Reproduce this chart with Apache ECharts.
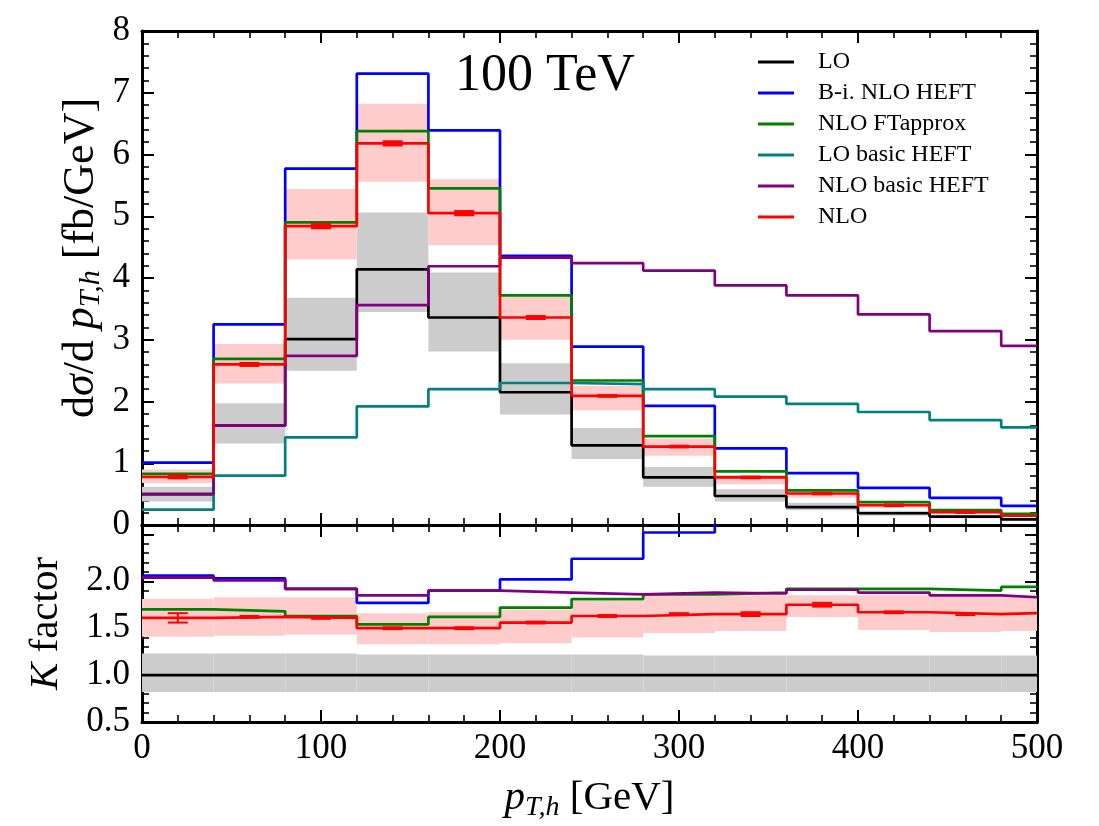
<!DOCTYPE html>
<html><head><meta charset="utf-8">
<script src="https://cdn.jsdelivr.net/npm/echarts@6/dist/echarts.min.js"></script>
<style>html,body{margin:0;padding:0;background:#fff}#c{width:1099px;height:826px}</style>
</head><body><div id="c"></div>
<script>
// ---- data ----
const binEdges = [0,40,80,120,160,200,240,280,320,360,400,440,480,500];
const seriesNames = ['LO','B-i. NLO HEFT','NLO FTapprox','LO basic HEFT','NLO basic HEFT','NLO'];
const xTicks = [0,100,200,300,400,500];

// top panel: dsigma/dpT [fb/GeV]
const lo            = [0.50,1.61,3.01,4.14,3.36,2.15,1.29,0.77,0.47,0.29,0.19,0.135,0.09];
const loBandLow     = [0.38,1.32,2.50,3.45,2.81,1.79,1.07,0.62,0.38,0.24,0.15,0.11,0.07];
const loBandHigh    = [0.62,1.97,3.68,5.06,4.09,2.62,1.57,0.94,0.58,0.36,0.23,0.16,0.11];
const biNloHeft     = [1.01,3.25,5.77,7.31,6.39,4.36,2.89,1.93,1.24,0.84,0.60,0.44,0.31];
const nloFTapprox   = [0.83,2.69,4.90,6.38,5.45,3.72,2.34,1.44,0.87,0.56,0.37,0.24,0.18];
const loBasicHeft   = [0.25,0.80,1.42,1.92,2.20,2.30,2.28,2.20,2.08,1.96,1.83,1.70,1.58];
const nloBasicHeft  = [0.50,1.61,2.74,3.56,4.19,4.33,4.24,4.12,3.88,3.72,3.41,3.14,2.90];
const nlo           = [0.78,2.60,4.84,6.18,5.05,3.36,2.09,1.27,0.77,0.51,0.32,0.21,0.15];
const nloBandLow    = [0.68,2.29,4.30,5.56,4.53,3.00,1.86,1.12,0.66,0.44,0.28,0.18,0.13];
const nloBandHigh   = [0.90,2.93,5.44,6.82,5.60,3.70,2.25,1.40,0.81,0.57,0.36,0.23,0.17];
const nloErr        = [0.02,0.02,0.03,0.03,0.03,0.02,0.01,0.01,0.01,0.01,0.01,0.01];

// bottom panel: K factor
const kLO           = [1,1,1,1,1,1,1,1,1,1,1,1,1];
const kLOBandLow    = [0.82,0.82,0.82,0.82,0.82,0.82,0.82,0.82,0.82,0.82,0.82,0.82,0.82];
const kLOBandHigh   = [1.23,1.23,1.23,1.22,1.22,1.22,1.22,1.21,1.21,1.21,1.21,1.21,1.21];
const kBiNloHeft    = [2.06,2.03,1.92,1.77,1.90,2.02,2.24,2.52,2.65,2.90,3.15,3.25,3.40];
const kNloFTapprox  = [1.70,1.68,1.63,1.54,1.62,1.72,1.81,1.86,1.88,1.92,1.92,1.90,1.94];
const kNloBasicHeft = [2.04,2.01,1.92,1.85,1.90,1.88,1.86,1.88,1.87,1.91,1.88,1.85,1.83];
const kNlo          = [1.61,1.62,1.61,1.50,1.50,1.56,1.63,1.65,1.65,1.75,1.67,1.65,1.66];
const kNloBandLow   = [1.41,1.42,1.43,1.33,1.33,1.34,1.40,1.45,1.47,1.62,1.48,1.46,1.47];
const kNloBandHigh  = [1.81,1.83,1.83,1.66,1.67,1.70,1.79,1.85,1.85,1.85,1.85,1.85,1.85];
const kNloErr       = [0.05,0.01,0.01,0.01,0.01,0.01,0.01,0.01,0.02,0.02,0.01,0.01];

// ---- chart ----
const colors = ['#000000','#0000ff','#008000','#008080','#800080','#ff0000'];
const FONT = 'Liberation Serif';
const chart = echarts.init(document.getElementById('c'), null, {renderer:'canvas'});

function steps(vals){
  const d = vals.map((v,i)=>[binEdges[i], v]);
  d.push([binEdges[binEdges.length-1], vals[vals.length-1]]);
  return d;
}
function lineSeries(name, vals, color, xi, yi, z){
  return {type:'line', name, xAxisIndex:xi, yAxisIndex:yi, data:steps(vals), step:'end',
    symbol:'none', showSymbol:false, clip:true, z,
    lineStyle:{color, width:2.7}, itemStyle:{color}, animation:false};
}
function bandSeries(name, low, high, color, xi, yi){
  return {type:'custom', name, xAxisIndex:xi, yAxisIndex:yi, silent:true, z:1, animation:false,
    data: low.map((l,i)=>[binEdges[i], binEdges[i+1], l, high[i]]),
    encode:{x:[0,1], y:[2,3]},
    renderItem:(params, api)=>{
      const p1 = api.coord([api.value(0), api.value(3)]);
      const p2 = api.coord([api.value(1), api.value(2)]);
      return {type:'rect', shape:{x:p1[0], y:p1[1], width:p2[0]-p1[0], height:p2[1]-p1[1]},
        style:{fill:color}};
    }};
}
function errSeries(name, vals, errs, xi, yi, capW, lw){
  return {type:'custom', name, xAxisIndex:xi, yAxisIndex:yi, silent:true, z:20, animation:false,
    data: errs.map((e,i)=>[(binEdges[i]+binEdges[i]+40)/2, vals[i], e]),
    encode:{x:0, y:1},
    renderItem:(params, api)=>{
      const x = api.value(0), y = api.value(1), e = api.value(2);
      const t = api.coord([x, y+e]), b = api.coord([x, y-e]);
      const h = capW/2, st = {stroke:'#ff0000', lineWidth:lw};
      return {type:'group', children:[
        {type:'line', shape:{x1:t[0], y1:t[1], x2:b[0], y2:b[1]}, style:st},
        {type:'line', shape:{x1:t[0]-h, y1:t[1], x2:t[0]+h, y2:t[1]}, style:st},
        {type:'line', shape:{x1:b[0]-h, y1:b[1], x2:b[0]+h, y2:b[1]}, style:st}
      ]};
    }};
}

const lineCommon = {show:true, onZero:false, lineStyle:{color:'#000', width:3}};
const majorTick = {show:true, inside:true, length:12, lineStyle:{color:'#000', width:2}};
const minorTickStyle = {color:'#000', width:1.6};
const labelFont = {fontFamily:FONT, fontSize:35, color:'#000'};
function xAxis(grid, pos, showLabel, extra){
  return Object.assign({type:'value', gridIndex:grid, position:pos, min:0, max:500, interval:100,
    axisLine:lineCommon, axisTick:majorTick,
    minorTick:{show:true, splitNumber:5, length:7, lineStyle:minorTickStyle},
    splitLine:{show:false}, minorSplitLine:{show:false},
    axisLabel:Object.assign({show:showLabel, margin:9, showMinLabel:true, showMaxLabel:true,
      formatter:v=> xTicks.includes(v) ? String(v) : ''}, labelFont)}, extra||{});
}
function mkRich(fs, sfs){
  return {
    n:{fontFamily:FONT, fontSize:fs, lineHeight:fs+7, color:'#000'},
    i:{fontFamily:FONT, fontSize:fs, lineHeight:fs+7, fontStyle:'italic', color:'#000'},
    s:{fontFamily:FONT, fontSize:sfs, lineHeight:sfs+3, fontStyle:'italic', verticalAlign:'bottom', color:'#000'}
  };
}
const rich = mkRich(41, 28);
const richY = mkRich(44, 30);
function kMinorAxis(pos){
  return {type:'value', gridIndex:2, position:pos, min:0.5, max:2.6, interval:0.1,
    axisLine:{show:false},
    axisTick:{show:true, inside:true, length:7, lineStyle:minorTickStyle},
    splitLine:{show:false}, axisLabel:{show:false}};
}

const option = {
  animation:false,
  backgroundColor:'#fff',
  grid:[
    {left:142, top:31, right:62, height:494},
    {left:142, top:525, right:62, height:197},
    {left:142, top:525, right:62, height:197}
  ],
  xAxis:[
    xAxis(0,'bottom',false),
    xAxis(0,'top',false),
    xAxis(1,'bottom',true,{name:'{i|p}{s|T,h}{n| [GeV]}', nameLocation:'middle', nameGap:52,
      nameTextStyle:{rich}}),
    xAxis(1,'top',false),
    {type:'value', gridIndex:2, min:0, max:500, show:false}
  ],
  yAxis:[
    {type:'value', gridIndex:0, position:'left', min:0, max:8, interval:1,
      axisLine:lineCommon, axisTick:majorTick,
      minorTick:{show:true, splitNumber:5, length:7, lineStyle:minorTickStyle},
      splitLine:{show:false},
      axisLabel:Object.assign({margin:12, showMinLabel:true, showMaxLabel:true}, labelFont)},
    {type:'value', gridIndex:0, position:'right', min:0, max:8, interval:1,
      axisLine:lineCommon, axisTick:majorTick,
      minorTick:{show:true, splitNumber:5, length:7, lineStyle:minorTickStyle},
      splitLine:{show:false}, axisLabel:{show:false}},
    {type:'value', gridIndex:1, position:'left', min:0.5, max:2.6, interval:0.5,
      axisLine:lineCommon, axisTick:majorTick,
      splitLine:{show:false},
      axisLabel:Object.assign({margin:12, showMinLabel:true, showMaxLabel:true,
        formatter:v=> v>2.05 ? '' : v.toFixed(1)}, labelFont),
      name:'{i|K}{n| factor}', nameLocation:'middle', nameRotate:90, nameGap:72,
      nameTextStyle:{rich}},
    {type:'value', gridIndex:1, position:'right', min:0.5, max:2.6, interval:0.5,
      axisLine:lineCommon, axisTick:majorTick,
      splitLine:{show:false}, axisLabel:{show:false}},
    kMinorAxis('left'),
    kMinorAxis('right')
  ],
  legend:{
    data:seriesNames, orient:'vertical', left:753, top:45, itemWidth:36, itemHeight:3, itemGap:7,
    icon:'rect', selectedMode:false,
    textStyle:{fontFamily:FONT, fontSize:24, lineHeight:24, color:'#000', padding:[0,0,0,19]}
  },
  graphic:[
    {type:'text', left:455, top:50, style:{text:'100 TeV', font:'52px "Liberation Serif"', fill:'#000'}},
    {type:'text', x:81, y:258, rotation:Math.PI/2,
      style:{text:'{n|d}{i|σ}{n|/d }{i|p}{s|T,h}{n| [fb/GeV]}', rich:richY,
        align:'center', verticalAlign:'middle', fill:'#000'}}
  ],
  series:[
    bandSeries('LO band', loBandLow, loBandHigh, '#cccccc', 0, 0),
    bandSeries('NLO band', nloBandLow, nloBandHigh, '#ffcccc', 0, 0),
    lineSeries(seriesNames[0], lo, colors[0], 0, 0, 5),
    lineSeries(seriesNames[1], biNloHeft, colors[1], 0, 0, 6),
    lineSeries(seriesNames[2], nloFTapprox, colors[2], 0, 0, 7),
    lineSeries(seriesNames[3], loBasicHeft, colors[3], 0, 0, 8),
    lineSeries(seriesNames[4], nloBasicHeft, colors[4], 0, 0, 9),
    lineSeries(seriesNames[5], nlo, colors[5], 0, 0, 10),
    errSeries('NLO err', nlo, nloErr, 0, 0, 20, 2.5),

    bandSeries('K LO band', kLOBandLow, kLOBandHigh, '#cccccc', 2, 2),
    bandSeries('K NLO band', kNloBandLow, kNloBandHigh, '#ffcccc', 2, 2),
    lineSeries(seriesNames[0], kLO, colors[0], 2, 2, 5),
    lineSeries(seriesNames[1], kBiNloHeft, colors[1], 2, 2, 6),
    lineSeries(seriesNames[2], kNloFTapprox, colors[2], 2, 2, 7),
    lineSeries(seriesNames[4], kNloBasicHeft, colors[4], 2, 2, 9),
    lineSeries(seriesNames[5], kNlo, colors[5], 2, 2, 10),
    errSeries('K NLO err', kNlo, kNloErr, 2, 2, 20, 2)
  ]
};
chart.setOption(option);
</script>
</body></html>
